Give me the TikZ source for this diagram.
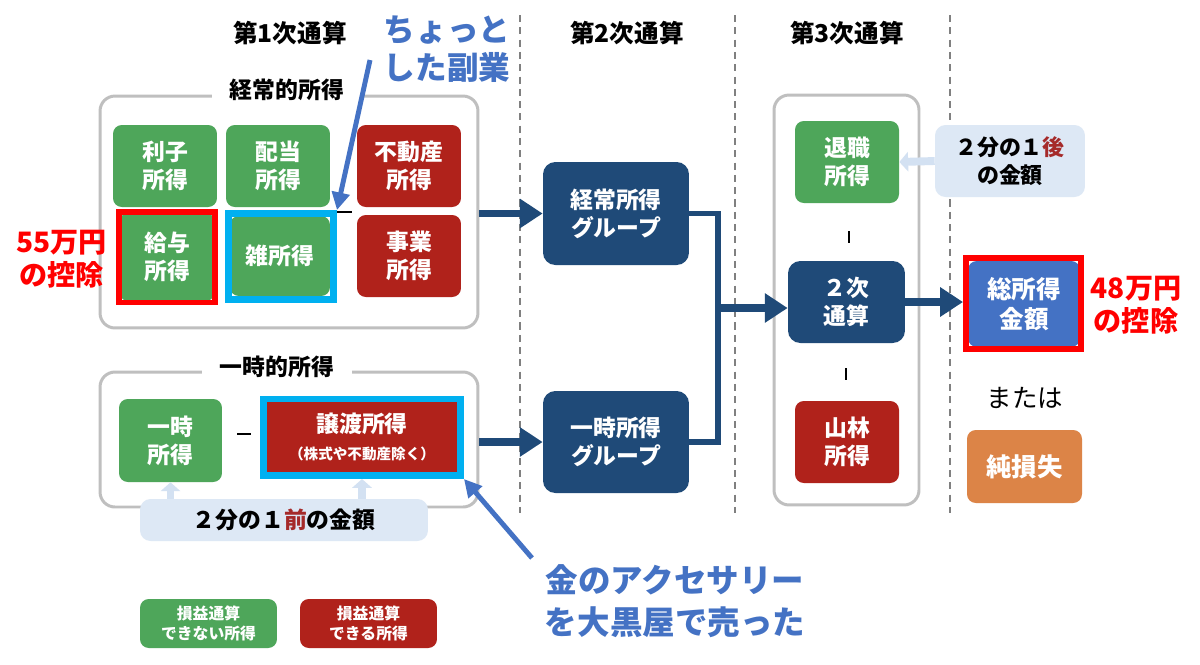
\documentclass[tikz,border=0pt]{standalone}
\usepackage{fontspec}
\setmainfont{Noto Sans CJK JP}
\usetikzlibrary{arrows.meta}
\definecolor{gr}{HTML}{4EA65A}
\definecolor{rd}{HTML}{B0221B}
\definecolor{nv}{HTML}{1F4A78}
\definecolor{bl}{HTML}{4472C4}
\definecolor{cy}{HTML}{00B0F0}
\definecolor{og}{HTML}{DC8447}
\definecolor{lb}{HTML}{DDE8F5}
\definecolor{lbarrow}{HTML}{D3E1F2}
\definecolor{gb}{HTML}{BFBFBF}
\definecolor{pr}{HTML}{FF0000}
\definecolor{dr}{HTML}{A52A2A}
\definecolor{dl}{HTML}{808080}
\begin{document}
\begin{tikzpicture}[x=0.02cm,y=-0.02cm,
  bx/.style={rounded corners=5pt, text=white, align=center, inner sep=0pt,
    font=\bfseries\fontsize{13pt}{16pt}\selectfont},
  grbox/.style={bx, fill=gr},
  rdbox/.style={bx, fill=rd},
  nvbox/.style={bx, fill=nv, rounded corners=7pt},
  grp/.style={draw=gb, line width=1.7pt, rounded corners=8.5pt, inner sep=0pt},
  grplabel/.style={fill=white, inner xsep=10pt, inner ysep=2pt, font=\bfseries\fontsize{13pt}{16pt}\selectfont},
  head/.style={font=\bfseries\fontsize{14pt}{16pt}\selectfont},
  redframe/.style={draw=pr, line width=3.4pt, inner sep=0pt},
  cyframe/.style={draw=cy, line width=4pt, inner sep=0pt},
  nvarrow/.style={draw=nv, line width=4pt, -{Triangle[length=13pt,width=16pt]}},
  nvline/.style={draw=nv, line width=3.4pt},
  lbarr/.style={draw=lbarrow, line width=4.5pt, -{Triangle[length=5pt,width=11pt]}},
  annarrow/.style={draw=bl, line width=2.8pt, -{Triangle[length=10pt,width=10pt]}},
  anntext/.style={text=bl, align=center, font=\bfseries\fontsize{18.5pt}{22pt}\selectfont},
  redtext/.style={text=pr, align=center, font=\bfseries\fontsize{16pt}{19pt}\selectfont},
  divider/.style={draw=dl, line width=0.7pt, dash pattern=on 4pt off 3pt},
  tick/.style={draw=black, line width=0.8pt}
]
\path[fill=white, use as bounding box] (0,0) rectangle (1200,664);

% dashed dividers
\draw[divider] (520,15) -- (520,513);
\draw[divider] (735,15) -- (735,513);
\draw[divider] (950,15) -- (950,513);

% headers
\node[head] (h1) at (290,33) {第1次通算};
\node[head] (h2) at (627,33) {第2次通算};
\node[head] (h3) at (847,33) {第3次通算};

% group boxes
\node[grp, minimum width=7.56cm, minimum height=4.64cm] (G1) at (289,212) {};
\node[grplabel] (L1) at (287,90) {経常的所得};
\node[grp, minimum width=7.56cm, minimum height=2.7cm] (G2) at (289,439.5) {};
\node[grplabel] (L2) at (277,367) {一時的所得};
\node[grp, minimum width=2.9cm, minimum height=8.2cm] (G3) at (846.5,300) {};

% first stage boxes
\node[grbox, minimum width=2.08cm, minimum height=1.64cm] (riko) at (165,166) {利子\\所得};
\node[grbox, minimum width=2.08cm, minimum height=1.64cm] (haito) at (278,166) {配当\\所得};
\node[rdbox, minimum width=2.08cm, minimum height=1.64cm] (fudo) at (409,166) {不動産\\所得};
\node[grbox, minimum width=1.88cm, minimum height=1.78cm] (kyuyo) at (167,257) {給与\\所得};
\node[redframe, minimum width=1.92cm, minimum height=1.82cm] (kf) at (167,257) {};
\node[grbox, minimum width=2.0cm, minimum height=1.6cm] (zatsu) at (280,256) {雑所得};
\node[cyframe, minimum width=2.1cm, minimum height=1.72cm] (zf) at (281,256.5) {};
\node[rdbox, minimum width=2.08cm, minimum height=1.64cm] (jigyo) at (409,256) {事業\\所得};
\draw[tick] (337,212) -- (352,212);

\node[grbox, minimum width=2.06cm, minimum height=1.66cm] (ichiji) at (170.5,440.5) {一時\\所得};
\draw[tick] (237,434) -- (251,434);
\node[cyframe, minimum width=3.94cm, minimum height=1.52cm, fill=cy] (jf) at (362,437.5) {};
\node[rdbox, rounded corners=0pt, minimum width=3.8cm, minimum height=1.4cm] (joto) at (362,437) {譲渡所得\\[-1pt]{\fontsize{8.3pt}{10pt}\selectfont （株式や不動産除く）}};

% half-before box
\node[fill=lb, rounded corners=6pt, minimum width=5.76cm, minimum height=0.84cm, inner sep=0pt,
  font=\bfseries\fontsize{13pt}{16pt}\selectfont] (mae) at (284,520) {２分の１{\color{dr}前}の金額};
\draw[lbarr] (mae.north -| ichiji) -- (ichiji.south);
\draw[lbarr] (mae.north -| jf) -- (jf.south);

% legend
\node[grbox, minimum width=2.74cm, minimum height=0.98cm, font=\bfseries\fontsize{9pt}{11pt}\selectfont] (leg1) at (208.5,623.5) {損益通算\\できない所得};
\node[rdbox, minimum width=2.74cm, minimum height=0.98cm, font=\bfseries\fontsize{9pt}{11pt}\selectfont] (leg2) at (368.5,623.5) {損益通算\\できる所得};

% second stage
\node[nvbox, minimum width=2.92cm, minimum height=2.06cm] (g2a) at (616,213.5) {経常所得\\グループ};
\node[nvbox, minimum width=2.92cm, minimum height=2.04cm] (g2b) at (616,442) {一時所得\\グループ};
\draw[nvarrow] (G1.east |- g2a.west) -- (g2a.west);
\draw[nvarrow] (G2.east |- g2b.west) -- (g2b.west);
\coordinate (jx) at (718,308);
\draw[nvline] (g2a.east) -| (jx) |- (g2b.east);

% third stage
\node[grbox, minimum width=2.08cm, minimum height=1.64cm] (tai) at (847,162) {退職\\所得};
\node[nvbox, minimum width=2.34cm, minimum height=1.64cm] (niji) at (846.5,302) {２次\\通算};
\node[rdbox, minimum width=2.08cm, minimum height=1.64cm] (sanrin) at (847,442) {山林\\所得};
\draw[tick] (849,231) -- (849,243);
\draw[tick] (846,368) -- (846,380);
\draw[nvarrow] (jx) -- (jx -| niji.west);

\node[fill=lb, rounded corners=6pt, minimum width=3.0cm, minimum height=1.44cm, inner sep=0pt, align=center,
  font=\bfseries\fontsize{12.5pt}{16pt}\selectfont] (ato) at (1010,161) {２分の１{\color{dr}後}\\の金額};
\draw[lbarr] (ato.west) -- (tai.east);

% result
\node[bx, fill=bl, minimum width=2.24cm, minimum height=1.72cm, font=\bfseries\fontsize{14pt}{17pt}\selectfont] (soto) at (1024,304) {総所得\\金額};
\node[redframe, minimum width=2.3cm, minimum height=1.82cm] (sf) at (1023.5,303.5) {};
\draw[nvarrow] (niji.east) -- (niji.east -| sf.west);
\node[font=\fontsize{14.5pt}{17pt}\selectfont] (mataha) at (1025,398) {または};
\node[bx, fill=og, minimum width=2.3cm, minimum height=1.46cm, font=\bfseries\fontsize{14.5pt}{17pt}\selectfont] (jun) at (1024.5,466.5) {純損失};

% annotations
\node[redtext] (d55) at (61.5,259) {55万円\\の控除};
\node[redtext] (d48) at (1136,305) {48万円\\の控除};
\node[anntext, font=\bfseries\fontsize{18pt}{21.5pt}\selectfont] (fuku) at (447,49) {ちょっと\\した副業};
\coordinate (fs) at (370,60);
\draw[annarrow] (fs) -- (zf.north east);
\node[anntext, font=\bfseries\fontsize{18.5pt}{24pt}\selectfont] (kin) at (675,601) {金のアクセサリー\\を大黒屋で売った};
\coordinate (ks) at (532,558);
\draw[annarrow] (ks) -- (jf.south east);
\end{tikzpicture}
\end{document}
